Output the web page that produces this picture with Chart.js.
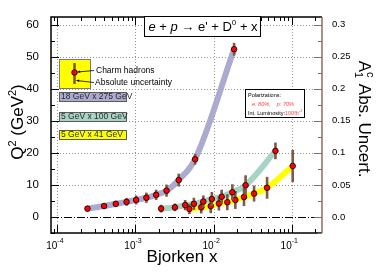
<!DOCTYPE html>
<html>
<head>
<meta charset="utf-8">
<script src="https://cdn.jsdelivr.net/npm/chart.js@4.4.1/dist/chart.umd.min.js"></script>
<style>
html, body { margin: 0; padding: 0; background: #fff; }
</style>
</head>
<body>
<canvas id="item_graph_canvas" width="382" height="277"></canvas>
<script>
// values
// 18 GeV x 275 GeV
const x_18x275 = [2.43e-4, 3.97e-4, 5.6e-4, 7.7e-4, 1.02e-3, 1.38e-3, 1.84e-3, 2.5e-3, 3.58e-3, 5.8e-3, 1.83e-2];
const q2_18x275 = [2.6, 3.4, 4.1, 4.7, 5.3, 6.0, 6.9, 8.2, 11.5, 18.0, 52.3];
const err_18x275 = [0.6, 0.8, 0.9, 1.2, 1.4, 1.6, 1.6, 1.9, 2.0, 1.7, 2.0];
// 5 GeV x 100 GeV
const x_5x100 = [2.13e-3, 3.2e-3, 4.33e-3, 5.6e-3, 7.4e-3, 9.5e-3, 1.27e-2, 1.74e-2, 2.57e-2, 6.2e-2];
const q2_5x100 = [2.6, 3.0, 3.7, 4.1, 4.8, 5.6, 6.3, 7.7, 9.9, 20.6];
const err_5x100 = [1.2, 1.2, 1.6, 1.9, 1.9, 2.2, 2.2, 2.5, 3.1, 2.6];
// 5 GeV x 41 GeV
const x_5x41 = [4.9e-3, 6.95e-3, 9.2e-3, 1.17e-2, 1.5e-2, 1.9e-2, 2.45e-2, 3.3e-2, 4.84e-2, 0.103];
const q2_5x41 = [2.5, 3.0, 3.4, 4.2, 4.6, 5.3, 6.2, 7.3, 9.1, 15.9];
const err_5x41 = [1.6, 1.9, 2.2, 2.2, 2.5, 2.8, 2.8, 2.5, 3.4, 5.0];

const series_labels = ['18 GeV x 275 GeV', '5 GeV x 100 GeV', '5 GeV x 41 GeV'];
const series_colors = ['rgb(172,170,206)', 'rgb(168,212,196)', 'rgb(255,255,0)'];

// tick labels
const x_decades = [1e-4, 1e-3, 1e-2, 1e-1];
const x_decade_exps = ['-4', '-3', '-2', '-1'];
const y_ticks = [0, 10, 20, 30, 40, 50, 60];
const y2_ticks = [0, 0.05, 0.1, 0.15, 0.2, 0.25, 0.3];
const y2_tick_labels = ['0.0', '0.05', '0.1', '0.15', '0.2', '0.25', '0.3'];

const FONT = 'Liberation Sans, Arial, sans-serif';
const BAR_COLOR = 'rgb(128,88,70)';
const RIGHT_AXIS_COLOR = 'rgb(140,108,96)';

function to_points(xs, ys) {
    let out = [];
    for (let i = 0; i < xs.length; i++) {
        out.push({x: xs[i], y: ys[i]});
    }
    return out;
}

function line_set(xs, ys, color) {
    return {
        type: 'line',
        data: to_points(xs, ys),
        borderColor: color,
        borderWidth: 6,
        pointRadius: 0,
        cubicInterpolationMode: 'monotone',
        order: 2
    };
}

function point_set(xs, ys, errs) {
    return {
        type: 'scatter',
        data: to_points(xs, ys),
        errs: errs,
        pointRadius: 2.8,
        pointBackgroundColor: 'rgb(255,0,0)',
        pointBorderColor: '#000',
        pointBorderWidth: 0.8,
        order: 1
    };
}

// grid, zero line, frame, ticks, error bars, labels and boxes
const decor_plugin = {
    id: 'decor',
    beforeDatasetsDraw(chart) {
        const ctx = chart.ctx;
        const a = chart.chartArea;
        const xs = chart.scales.x, ys = chart.scales.y;
        ctx.save();
        ctx.strokeStyle = 'rgb(150,150,150)';
        ctx.lineWidth = 1;
        ctx.setLineDash([1, 2]);
        for (const v of x_decades) {
            let px = Math.round(xs.getPixelForValue(v)) + 0.5;
            ctx.beginPath(); ctx.moveTo(px, a.top); ctx.lineTo(px, a.bottom); ctx.stroke();
        }
        for (const v of y_ticks) {
            if (v == 0) continue;
            let py = Math.round(ys.getPixelForValue(v)) + 0.5;
            ctx.beginPath(); ctx.moveTo(a.left, py); ctx.lineTo(a.right, py); ctx.stroke();
        }
        // zero line, dash-dot
        ctx.strokeStyle = '#000';
        ctx.setLineDash([8, 2, 1, 2]);
        let pz = Math.round(ys.getPixelForValue(0)) + 0.5;
        ctx.beginPath(); ctx.moveTo(a.left, pz); ctx.lineTo(a.right, pz); ctx.stroke();
        ctx.restore();
    },
    beforeDatasetDraw(chart, args) {
        const ds = chart.data.datasets[args.index];
        if (!ds.errs) return;
        const ctx = chart.ctx;
        const xs = chart.scales.x, ys = chart.scales.y;
        ctx.save();
        ctx.strokeStyle = BAR_COLOR;
        ctx.lineWidth = 2.6;
        for (let i = 0; i < ds.data.length; i++) {
            let px = xs.getPixelForValue(ds.data[i].x);
            ctx.beginPath();
            ctx.moveTo(px, ys.getPixelForValue(ds.data[i].y - ds.errs[i]));
            ctx.lineTo(px, ys.getPixelForValue(ds.data[i].y + ds.errs[i]));
            ctx.stroke();
        }
        ctx.restore();
    },
    afterDatasetsDraw(chart) {
        const ctx = chart.ctx;
        const a = chart.chartArea;
        const xs = chart.scales.x, ys = chart.scales.y, y2 = chart.scales.y2;
        ctx.save();
        // frame
        ctx.lineWidth = 1.5;
        ctx.strokeStyle = '#000';
        ctx.beginPath();
        ctx.moveTo(a.right, a.top); ctx.lineTo(a.left, a.top); ctx.lineTo(a.left, a.bottom); ctx.lineTo(a.right, a.bottom);
        ctx.stroke();
        ctx.strokeStyle = RIGHT_AXIS_COLOR;
        ctx.beginPath(); ctx.moveTo(a.right, a.top); ctx.lineTo(a.right, a.bottom); ctx.stroke();
        // left ticks
        ctx.lineWidth = 1;
        ctx.strokeStyle = '#000';
        for (let v = -5; v <= 60; v += 5) {
            let py = Math.round(ys.getPixelForValue(v)) + 0.5;
            let len = (v % 10 == 0) ? 8 : 4;
            ctx.beginPath(); ctx.moveTo(a.left, py); ctx.lineTo(a.left + len, py); ctx.stroke();
        }
        // right ticks
        ctx.strokeStyle = RIGHT_AXIS_COLOR;
        for (let k = -1; k <= 12; k++) {
            let py = Math.round(y2.getPixelForValue(k * 0.025)) + 0.5;
            let len = (k % 2 == 0) ? 8 : 4;
            ctx.beginPath(); ctx.moveTo(a.right, py); ctx.lineTo(a.right - len, py); ctx.stroke();
        }
        // bottom and top log ticks
        ctx.strokeStyle = '#000';
        for (let e = -5; e <= 0; e++) {
            for (let m = 1; m <= 9; m++) {
                let v = m * Math.pow(10, e);
                let px = xs.getPixelForValue(v);
                if (px < a.left + 1 || px > a.right - 1) continue;
                px = Math.round(px) + 0.5;
                let len = (m == 1) ? 8 : 4;
                ctx.beginPath(); ctx.moveTo(px, a.bottom); ctx.lineTo(px, a.bottom - len); ctx.stroke();
                ctx.beginPath(); ctx.moveTo(px, a.top); ctx.lineTo(px, a.top + len); ctx.stroke();
            }
        }
        // x tick labels, 10 with exponent
        ctx.fillStyle = '#000';
        ctx.textBaseline = 'alphabetic';
        for (let i = 0; i < x_decades.length; i++) {
            let px = xs.getPixelForValue(x_decades[i]);
            ctx.font = '10px ' + FONT;
            ctx.textAlign = 'right';
            ctx.fillText('10', px, 249);
            ctx.font = '7px ' + FONT;
            ctx.textAlign = 'left';
            ctx.fillText(x_decade_exps[i], px, 243);
        }
        // axis titles
        ctx.font = '17px ' + FONT;
        ctx.textAlign = 'center';
        ctx.fillText('Bjorken x', 182, 262);
        ctx.save();
        ctx.translate(23, 122);
        ctx.rotate(-Math.PI / 2);
        draw_runs(ctx, [['Q', 17, 0], ['2', 11, -7], [' (GeV', 17, 0], ['2', 11, -7], [')', 17, 0]], 'center');
        ctx.restore();
        ctx.save();
        ctx.translate(359, 119);
        ctx.rotate(Math.PI / 2);
        draw_stack_title(ctx);
        ctx.restore();

        // process title box
        ctx.fillStyle = '#fff';
        ctx.fillRect(144, 16, 116, 20);
        ctx.strokeStyle = '#000';
        ctx.lineWidth = 1;
        ctx.strokeRect(144.5, 16.5, 116, 20);
        ctx.fillStyle = '#000';
        ctx.save();
        ctx.translate(203, 31);
        draw_runs(ctx, [['e', 13, 0, 'italic'], [' + ', 13, 0], ['p', 13, 0, 'italic'], [' \u2192 e\' + D', 13, 0], ['0', 8, -6], [' + x', 13, 0]], 'center');
        ctx.restore();

        // legend box: charm hadrons / uncertainty
        ctx.fillStyle = 'rgb(255,255,0)';
        ctx.fillRect(59, 59, 31, 29);
        ctx.strokeStyle = 'rgb(120,120,120)';
        ctx.strokeRect(59.5, 59.5, 31, 29);
        ctx.strokeStyle = BAR_COLOR;
        ctx.lineWidth = 2.6;
        ctx.beginPath(); ctx.moveTo(74.5, 63); ctx.lineTo(74.5, 84); ctx.stroke();
        ctx.fillStyle = 'rgb(255,0,0)';
        ctx.strokeStyle = '#000';
        ctx.lineWidth = 0.8;
        ctx.beginPath(); ctx.arc(74.5, 72.5, 2.8, 0, Math.PI * 2); ctx.fill(); ctx.stroke();
        ctx.lineWidth = 0.8;
        draw_arrow(ctx, 94, 70.5, 77.5, 72);
        draw_arrow(ctx, 94, 82.5, 76.5, 80.5);
        ctx.fillStyle = '#000';
        ctx.font = '8.5px ' + FONT;
        ctx.textAlign = 'left';
        ctx.textBaseline = 'middle';
        ctx.fillText('Charm hadrons', 96, 70.5);
        ctx.fillText('Absolute uncertainty', 95, 82.5);

        // series label boxes
        const box_tops = [92, 112, 130];
        for (let i = 0; i < series_labels.length; i++) {
            ctx.fillStyle = series_colors[i];
            ctx.fillRect(59, box_tops[i], 67, 9);
            ctx.strokeStyle = 'rgb(90,90,90)';
            ctx.lineWidth = 1;
            ctx.strokeRect(59.5, box_tops[i] + 0.5, 67, 9);
            ctx.fillStyle = 'rgb(40,40,40)';
            ctx.font = '8.5px ' + FONT;
            ctx.fillText(series_labels[i], 61, box_tops[i] + 5);
        }

        // polarization box
        ctx.fillStyle = '#fff';
        ctx.fillRect(245, 89, 60, 29);
        ctx.strokeStyle = '#000';
        ctx.lineWidth = 1;
        ctx.strokeRect(245.5, 89.5, 59, 28);
        ctx.font = '5.5px ' + FONT;
        ctx.fillStyle = '#000';
        ctx.fillText('Polarizations:', 248, 95);
        ctx.fillStyle = 'rgb(255,70,70)';
        ctx.font = 'italic 5.5px ' + FONT;
        ctx.fillText('e: 80%,    p: 70%', 252, 104);
        ctx.font = '5.5px ' + FONT;
        ctx.fillStyle = '#000';
        ctx.fillText('Int. Luminosity:', 248, 113);
        let w = ctx.measureText('Int. Luminosity:').width;
        ctx.fillStyle = 'rgb(255,70,70)';
        ctx.fillText('100fb', 248 + w, 113);
        let w2 = ctx.measureText('100fb').width;
        ctx.font = '4px ' + FONT;
        ctx.fillText('-1', 248 + w + w2, 111);
        ctx.restore();
    }
};

// draw a row of text pieces [text, size, dy, style]
function draw_runs(ctx, runs, align) {
    let total = 0;
    for (const r of runs) {
        ctx.font = (r[3] || '') + ' ' + r[1] + 'px ' + FONT;
        total += ctx.measureText(r[0]).width;
    }
    let x = (align == 'center') ? -total / 2 : 0;
    ctx.textAlign = 'left';
    ctx.textBaseline = 'alphabetic';
    for (const r of runs) {
        ctx.font = (r[3] || '') + ' ' + r[1] + 'px ' + FONT;
        ctx.fillText(r[0], x, r[2]);
        x += ctx.measureText(r[0]).width;
    }
}

function draw_stack_title(ctx) {
    ctx.font = '17px ' + FONT;
    let wa = ctx.measureText('A').width;
    ctx.font = '11px ' + FONT;
    let ws = ctx.measureText('1').width;
    ctx.font = '17px ' + FONT;
    let rest = ' Abs. Uncert.';
    let total = wa + ws + 1 + ctx.measureText(rest).width;
    let x = -total / 2;
    ctx.textAlign = 'left';
    ctx.textBaseline = 'alphabetic';
    ctx.fillStyle = '#000';
    ctx.fillText('A', x, 0);
    x += wa;
    ctx.font = '11px ' + FONT;
    ctx.fillText('c', x, -8);
    ctx.fillText('1', x, 4);
    x += ws + 1;
    ctx.font = '17px ' + FONT;
    ctx.fillText(rest, x, 0);
}

function draw_arrow(ctx, x1, y1, x2, y2) {
    ctx.strokeStyle = '#000';
    ctx.fillStyle = '#000';
    ctx.beginPath(); ctx.moveTo(x1, y1); ctx.lineTo(x2, y2); ctx.stroke();
    let ang = Math.atan2(y2 - y1, x2 - x1);
    ctx.beginPath();
    ctx.moveTo(x2, y2);
    ctx.lineTo(x2 - 3 * Math.cos(ang - 0.45), y2 - 3 * Math.sin(ang - 0.45));
    ctx.lineTo(x2 - 3 * Math.cos(ang + 0.45), y2 - 3 * Math.sin(ang + 0.45));
    ctx.closePath();
    ctx.fill();
}

let THE_CHART = new Chart(document.getElementById('item_graph_canvas'), {
    data: {
        datasets: [
            point_set(x_18x275, q2_18x275, err_18x275),
            point_set(x_5x100, q2_5x100, err_5x100),
            point_set(x_5x41, q2_5x41, err_5x41),
            line_set(x_18x275, q2_18x275, series_colors[0]),
            line_set(x_5x100, q2_5x100, series_colors[1]),
            line_set(x_5x41, q2_5x41, series_colors[2])
        ]
    },
    options: {
        responsive: false,
        devicePixelRatio: 1,
        animation: false,
        layout: {padding: {top: 17, left: 0, right: 0, bottom: 0}},
        plugins: {legend: {display: false}, tooltip: {enabled: false}},
        scales: {
            x: {
                type: 'logarithmic',
                min: Math.pow(10, -4.081),
                max: Math.pow(10, -0.612),
                grid: {display: false},
                border: {display: false},
                ticks: {display: false},
                afterFit: function (s) { s.height = 44; }
            },
            y: {
                type: 'linear',
                position: 'left',
                min: -5,
                max: 62.35,
                grid: {display: false},
                border: {display: false},
                afterBuildTicks: function (s) { s.ticks = y_ticks.map(v => ({value: v})); },
                ticks: {
                    padding: 4,
                    color: '#000',
                    font: {family: FONT, size: 11.5},
                    callback: function (v) { return String(v); }
                },
                afterFit: function (s) { s.width = 51; }
            },
            y2: {
                type: 'linear',
                position: 'right',
                min: -0.025,
                max: 0.31175,
                grid: {display: false},
                border: {display: false},
                afterBuildTicks: function (s) { s.ticks = y2_ticks.map(v => ({value: v})); },
                ticks: {
                    padding: 2,
                    color: '#000',
                    font: {family: FONT, size: 9.5},
                    callback: function (v, i) { return y2_tick_labels[i]; }
                },
                afterFit: function (s) { s.width = 60; }
            }
        }
    },
    plugins: [decor_plugin]
});
</script>
</body>
</html>
